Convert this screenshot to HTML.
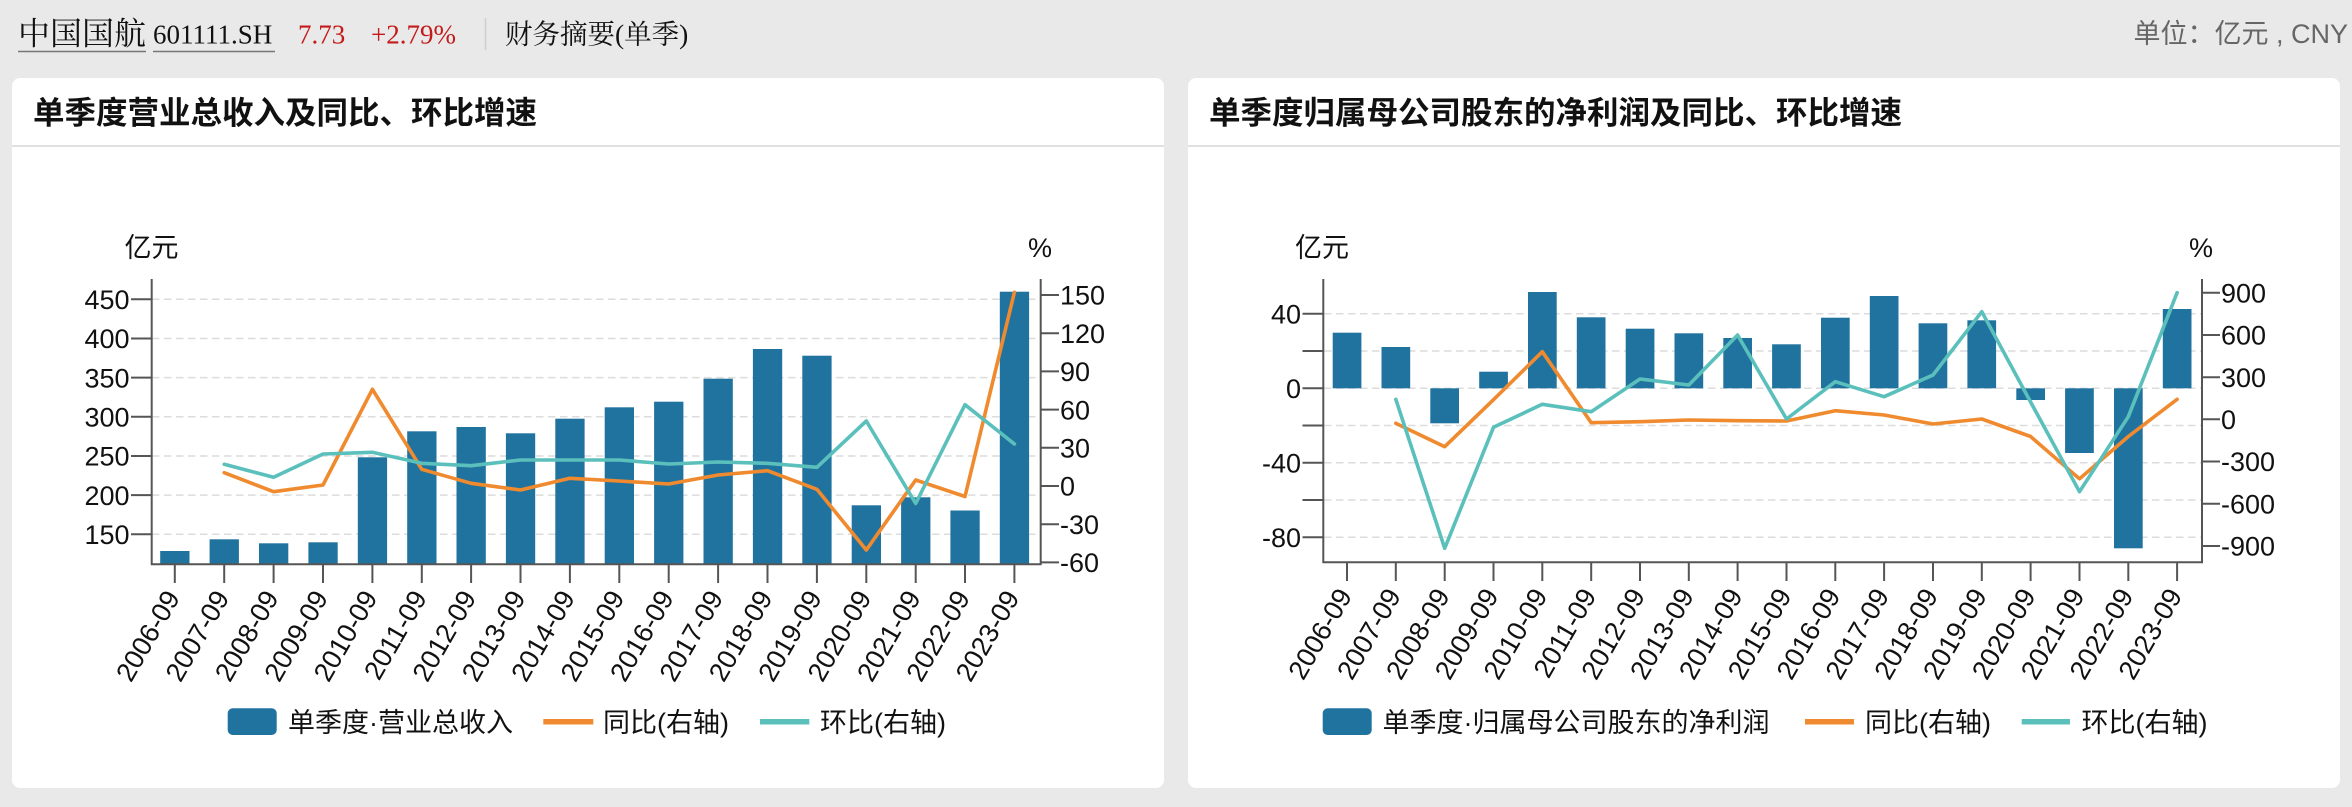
<!DOCTYPE html>
<html><head><meta charset="utf-8">
<style>
html,body{margin:0;padding:0;background:#e9e9e9;}
svg{display:block;}
.ax{font-family:"Liberation Sans","Noto Sans CJK SC",sans-serif;font-size:27px;fill:#111;}
.cjk{font-family:"Liberation Sans","Noto Sans CJK SC",sans-serif;}
.serif{font-family:"Liberation Serif","Noto Serif CJK SC",serif;}
</style></head>
<body>
<svg width="2352" height="807" viewBox="0 0 2352 807" xmlns="http://www.w3.org/2000/svg">
<rect x="0" y="0" width="2352" height="807" fill="#e9e9e9"/>

<!-- header -->
<text class="serif" x="18" y="44.5" font-size="32" fill="#111">中国国航</text>
<line x1="18" y1="51.5" x2="146" y2="51.5" stroke="#777" stroke-width="1.5"/>
<text class="serif" x="153" y="43.5" font-size="27" fill="#111">601111.SH</text>
<line x1="153" y1="51.5" x2="275" y2="51.5" stroke="#777" stroke-width="1.5"/>
<text class="serif" x="298" y="43.5" font-size="27" fill="#c41a1a">7.73</text>
<text class="serif" x="371" y="43.5" font-size="27" fill="#c41a1a">+2.79%</text>
<line x1="485.5" y1="18" x2="485.5" y2="50" stroke="#cfcfcf" stroke-width="1.5"/>
<text class="serif" x="505" y="43.5" font-size="27.5" fill="#111">财务摘要(单季)</text>
<text class="cjk" x="2348" y="43" font-size="27" fill="#666" text-anchor="end">单位：亿元 , CNY</text>

<!-- cards -->
<rect x="12" y="78" width="1152" height="710" rx="8" fill="#fff"/>
<rect x="1188" y="78" width="1152" height="710" rx="8" fill="#fff"/>
<line x1="12" y1="146" x2="1164" y2="146" stroke="#d6d6d6" stroke-width="1.5"/>
<line x1="1188" y1="146" x2="2340" y2="146" stroke="#d6d6d6" stroke-width="1.5"/>
<text class="cjk" x="33" y="123.5" font-size="31.5" font-weight="bold" fill="#111">单季度营业总收入及同比、环比增速</text>
<text class="cjk" x="1209" y="123.5" font-size="31.5" font-weight="bold" fill="#111">单季度归属母公司股东的净利润及同比、环比增速</text>

<!-- ============ LEFT CHART ============ -->
<g stroke="#dcdcdc" stroke-width="1.5" stroke-dasharray="7.5 4.5">
<line x1="152" y1="299.3" x2="1040" y2="299.3"/>
<line x1="152" y1="338.5" x2="1040" y2="338.5"/>
<line x1="152" y1="377.6" x2="1040" y2="377.6"/>
<line x1="152" y1="416.8" x2="1040" y2="416.8"/>
<line x1="152" y1="456" x2="1040" y2="456"/>
<line x1="152" y1="495.1" x2="1040" y2="495.1"/>
<line x1="152" y1="534.3" x2="1040" y2="534.3"/>
</g>
<g fill="#21739f">
<rect x="160.2" y="551" width="29.3" height="13.3"/>
<rect x="209.6" y="539.3" width="29.3" height="25"/>
<rect x="259.0" y="543.3" width="29.3" height="21"/>
<rect x="308.4" y="542.3" width="29.3" height="22"/>
<rect x="357.8" y="457.3" width="29.3" height="107"/>
<rect x="407.2" y="431.3" width="29.3" height="133"/>
<rect x="456.5" y="427" width="29.3" height="137.3"/>
<rect x="505.9" y="433.3" width="29.3" height="131"/>
<rect x="555.3" y="418.7" width="29.3" height="145.6"/>
<rect x="604.7" y="407.3" width="29.3" height="157"/>
<rect x="654.1" y="401.7" width="29.3" height="162.6"/>
<rect x="703.5" y="378.7" width="29.3" height="185.6"/>
<rect x="752.9" y="349" width="29.3" height="215.3"/>
<rect x="802.3" y="355.7" width="29.3" height="208.6"/>
<rect x="851.7" y="505.3" width="29.3" height="59"/>
<rect x="901.1" y="497.3" width="29.3" height="67"/>
<rect x="950.4" y="510.5" width="29.3" height="53.8"/>
<rect x="999.8" y="291.7" width="29.3" height="272.6"/>
</g>
<polyline fill="none" stroke="#f08a2e" stroke-width="3.6" stroke-linejoin="round" stroke-linecap="round"
points="224.2,472.7 273.6,491.7 323.0,485 372.4,389.3 421.8,469.3 471.1,483.3 520.5,490 569.9,478.3 619.3,481 668.7,484 718.1,475 767.5,470.7 816.9,489.3 866.3,550 915.7,480 965.0,496.5 1014.4,292.3"/>
<polyline fill="none" stroke="#5bc0bc" stroke-width="3.6" stroke-linejoin="round" stroke-linecap="round"
points="224.2,464.3 273.6,477.3 323.0,454 372.4,452.3 421.8,463.3 471.1,465.7 520.5,460 569.9,460 619.3,460 668.7,464 718.1,462 767.5,463.3 816.9,467.3 866.3,421 915.7,503.5 965.0,404.7 1014.4,444"/>
<!-- axes -->
<g stroke="#555" stroke-width="2" fill="none">
<line x1="151.7" y1="279" x2="151.7" y2="565"/>
<line x1="1040.7" y1="279" x2="1040.7" y2="565"/>
<line x1="151" y1="564.3" x2="1041.5" y2="564.3"/>
<line x1="131" y1="299.3" x2="151.7" y2="299.3"/>
<line x1="131" y1="338.5" x2="151.7" y2="338.5"/>
<line x1="131" y1="377.6" x2="151.7" y2="377.6"/>
<line x1="131" y1="416.8" x2="151.7" y2="416.8"/>
<line x1="131" y1="456" x2="151.7" y2="456"/>
<line x1="131" y1="495.1" x2="151.7" y2="495.1"/>
<line x1="131" y1="534.3" x2="151.7" y2="534.3"/>
<line x1="1040.7" y1="295" x2="1059" y2="295"/>
<line x1="1040.7" y1="333.2" x2="1059" y2="333.2"/>
<line x1="1040.7" y1="371.4" x2="1059" y2="371.4"/>
<line x1="1040.7" y1="409.6" x2="1059" y2="409.6"/>
<line x1="1040.7" y1="447.8" x2="1059" y2="447.8"/>
<line x1="1040.7" y1="486" x2="1059" y2="486"/>
<line x1="1040.7" y1="524.2" x2="1059" y2="524.2"/>
<line x1="1040.7" y1="562.4" x2="1059" y2="562.4"/>
<line x1="174.8" y1="564.3" x2="174.8" y2="583"/>
<line x1="224.2" y1="564.3" x2="224.2" y2="583"/>
<line x1="273.6" y1="564.3" x2="273.6" y2="583"/>
<line x1="323.0" y1="564.3" x2="323.0" y2="583"/>
<line x1="372.4" y1="564.3" x2="372.4" y2="583"/>
<line x1="421.8" y1="564.3" x2="421.8" y2="583"/>
<line x1="471.1" y1="564.3" x2="471.1" y2="583"/>
<line x1="520.5" y1="564.3" x2="520.5" y2="583"/>
<line x1="569.9" y1="564.3" x2="569.9" y2="583"/>
<line x1="619.3" y1="564.3" x2="619.3" y2="583"/>
<line x1="668.7" y1="564.3" x2="668.7" y2="583"/>
<line x1="718.1" y1="564.3" x2="718.1" y2="583"/>
<line x1="767.5" y1="564.3" x2="767.5" y2="583"/>
<line x1="816.9" y1="564.3" x2="816.9" y2="583"/>
<line x1="866.3" y1="564.3" x2="866.3" y2="583"/>
<line x1="915.7" y1="564.3" x2="915.7" y2="583"/>
<line x1="965.0" y1="564.3" x2="965.0" y2="583"/>
<line x1="1014.4" y1="564.3" x2="1014.4" y2="583"/>
</g>
<g class="ax" text-anchor="end">
<text x="129.5" y="309">450</text>
<text x="129.5" y="348.2">400</text>
<text x="129.5" y="387.3">350</text>
<text x="129.5" y="426.5">300</text>
<text x="129.5" y="465.7">250</text>
<text x="129.5" y="504.8">200</text>
<text x="129.5" y="544">150</text>
</g>
<g class="ax">
<text x="1060" y="304.7">150</text>
<text x="1060" y="342.9">120</text>
<text x="1060" y="381.1">90</text>
<text x="1060" y="419.3">60</text>
<text x="1060" y="457.5">30</text>
<text x="1060" y="495.7">0</text>
<text x="1060" y="533.9">-30</text>
<text x="1060" y="572.1">-60</text>
</g>
<text class="ax" x="151.5" y="257" text-anchor="middle">亿元</text>
<text class="ax" x="1040" y="257" text-anchor="middle">%</text>
<g class="ax" text-anchor="end" dominant-baseline="central">
<text transform="translate(172.8,593) rotate(-60)">2006-09</text>
<text transform="translate(222.2,593) rotate(-60)">2007-09</text>
<text transform="translate(271.6,593) rotate(-60)">2008-09</text>
<text transform="translate(321.0,593) rotate(-60)">2009-09</text>
<text transform="translate(370.4,593) rotate(-60)">2010-09</text>
<text transform="translate(419.8,593) rotate(-60)">2011-09</text>
<text transform="translate(469.1,593) rotate(-60)">2012-09</text>
<text transform="translate(518.5,593) rotate(-60)">2013-09</text>
<text transform="translate(567.9,593) rotate(-60)">2014-09</text>
<text transform="translate(617.3,593) rotate(-60)">2015-09</text>
<text transform="translate(666.7,593) rotate(-60)">2016-09</text>
<text transform="translate(716.1,593) rotate(-60)">2017-09</text>
<text transform="translate(765.5,593) rotate(-60)">2018-09</text>
<text transform="translate(814.9,593) rotate(-60)">2019-09</text>
<text transform="translate(864.3,593) rotate(-60)">2020-09</text>
<text transform="translate(913.7,593) rotate(-60)">2021-09</text>
<text transform="translate(963.0,593) rotate(-60)">2022-09</text>
<text transform="translate(1012.4,593) rotate(-60)">2023-09</text>
</g>
<!-- legend left -->
<rect x="227.7" y="708.3" width="49" height="26.7" rx="5" fill="#21739f"/>
<text class="ax" x="288" y="732">单季度·营业总收入</text>
<rect x="543.3" y="719" width="50" height="5.5" fill="#f08a2e"/>
<text class="ax" x="603" y="732">同比(右轴)</text>
<rect x="760" y="719" width="49.3" height="5.5" fill="#5bc0bc"/>
<text class="ax" x="820" y="732">环比(右轴)</text>

<!-- ============ RIGHT CHART ============ -->
<g stroke="#dcdcdc" stroke-width="1.5" stroke-dasharray="7.5 4.5">
<line x1="1324" y1="313.8" x2="2201" y2="313.8"/>
<line x1="1324" y1="351" x2="2201" y2="351"/>
<line x1="1324" y1="388.3" x2="2201" y2="388.3"/>
<line x1="1324" y1="425.5" x2="2201" y2="425.5"/>
<line x1="1324" y1="462.8" x2="2201" y2="462.8"/>
<line x1="1324" y1="500" x2="2201" y2="500"/>
<line x1="1324" y1="537.3" x2="2201" y2="537.3"/>
</g>
<g fill="#21739f">
<rect x="1332.7" y="332.7" width="28.7" height="55.6"/>
<rect x="1381.5" y="347" width="28.7" height="41.3"/>
<rect x="1430.3" y="388.3" width="28.7" height="35"/>
<rect x="1479.2" y="371.7" width="28.7" height="16.6"/>
<rect x="1528.0" y="292" width="28.7" height="96.3"/>
<rect x="1576.8" y="317.3" width="28.7" height="71"/>
<rect x="1625.7" y="328.7" width="28.7" height="59.6"/>
<rect x="1674.5" y="333.3" width="28.7" height="55"/>
<rect x="1723.3" y="338" width="28.7" height="50.3"/>
<rect x="1772.1" y="344.3" width="28.7" height="44"/>
<rect x="1821.0" y="317.7" width="28.7" height="70.6"/>
<rect x="1869.8" y="296" width="28.7" height="92.3"/>
<rect x="1918.6" y="323.3" width="28.7" height="65"/>
<rect x="1967.4" y="320.3" width="28.7" height="68"/>
<rect x="2016.3" y="388.3" width="28.7" height="11.7"/>
<rect x="2065.1" y="388.3" width="28.7" height="64.7"/>
<rect x="2114.0" y="388.3" width="28.7" height="160"/>
<rect x="2162.8" y="309" width="28.7" height="79.3"/>
</g>
<polyline fill="none" stroke="#f08a2e" stroke-width="3.6" stroke-linejoin="round" stroke-linecap="round"
points="1395.8,423.3 1444.7,446.7 1493.5,399.7 1542.3,351.7 1591.2,422.7 1640.0,421.7 1688.8,420 1737.6,420.7 1786.5,421 1835.3,410.7 1884.1,415 1933.0,424 1981.8,419 2030.6,436.5 2079.5,478.8 2128.3,436.5 2177.1,399.3"/>
<polyline fill="none" stroke="#5bc0bc" stroke-width="3.6" stroke-linejoin="round" stroke-linecap="round"
points="1395.8,399.3 1444.7,548.3 1493.5,427.3 1542.3,404.3 1591.2,411.7 1640.0,379 1688.8,385 1737.6,335 1786.5,419 1835.3,381.7 1884.1,396.7 1933.0,375 1981.8,311.7 2030.6,402 2079.5,491.7 2128.3,416.7 2177.1,292.7"/>
<g stroke="#555" stroke-width="2" fill="none">
<line x1="1323.3" y1="279" x2="1323.3" y2="563"/>
<line x1="2202" y1="279" x2="2202" y2="563"/>
<line x1="1322.5" y1="562.3" x2="2203" y2="562.3"/>
<line x1="1302.5" y1="313.8" x2="1323.3" y2="313.8"/>
<line x1="1302.5" y1="351" x2="1323.3" y2="351"/>
<line x1="1302.5" y1="388.3" x2="1323.3" y2="388.3"/>
<line x1="1302.5" y1="425.5" x2="1323.3" y2="425.5"/>
<line x1="1302.5" y1="462.8" x2="1323.3" y2="462.8"/>
<line x1="1302.5" y1="500" x2="1323.3" y2="500"/>
<line x1="1302.5" y1="537.3" x2="1323.3" y2="537.3"/>
<line x1="2202" y1="292.8" x2="2220" y2="292.8"/>
<line x1="2202" y1="335" x2="2220" y2="335"/>
<line x1="2202" y1="377.2" x2="2220" y2="377.2"/>
<line x1="2202" y1="419.3" x2="2220" y2="419.3"/>
<line x1="2202" y1="461.5" x2="2220" y2="461.5"/>
<line x1="2202" y1="503.8" x2="2220" y2="503.8"/>
<line x1="2202" y1="546" x2="2220" y2="546"/>
<line x1="1347.0" y1="562.3" x2="1347.0" y2="581"/>
<line x1="1395.8" y1="562.3" x2="1395.8" y2="581"/>
<line x1="1444.7" y1="562.3" x2="1444.7" y2="581"/>
<line x1="1493.5" y1="562.3" x2="1493.5" y2="581"/>
<line x1="1542.3" y1="562.3" x2="1542.3" y2="581"/>
<line x1="1591.2" y1="562.3" x2="1591.2" y2="581"/>
<line x1="1640.0" y1="562.3" x2="1640.0" y2="581"/>
<line x1="1688.8" y1="562.3" x2="1688.8" y2="581"/>
<line x1="1737.6" y1="562.3" x2="1737.6" y2="581"/>
<line x1="1786.5" y1="562.3" x2="1786.5" y2="581"/>
<line x1="1835.3" y1="562.3" x2="1835.3" y2="581"/>
<line x1="1884.1" y1="562.3" x2="1884.1" y2="581"/>
<line x1="1933.0" y1="562.3" x2="1933.0" y2="581"/>
<line x1="1981.8" y1="562.3" x2="1981.8" y2="581"/>
<line x1="2030.6" y1="562.3" x2="2030.6" y2="581"/>
<line x1="2079.5" y1="562.3" x2="2079.5" y2="581"/>
<line x1="2128.3" y1="562.3" x2="2128.3" y2="581"/>
<line x1="2177.1" y1="562.3" x2="2177.1" y2="581"/>
</g>
<g class="ax" text-anchor="end">
<text x="1301" y="323.5">40</text>
<text x="1301" y="398">0</text>
<text x="1301" y="472.5">-40</text>
<text x="1301" y="547">-80</text>
</g>
<g class="ax">
<text x="2221" y="302.5">900</text>
<text x="2221" y="344.7">600</text>
<text x="2221" y="386.9">300</text>
<text x="2221" y="429">0</text>
<text x="2221" y="471.2">-300</text>
<text x="2221" y="513.5">-600</text>
<text x="2221" y="555.7">-900</text>
</g>
<text class="ax" x="1322" y="257" text-anchor="middle">亿元</text>
<text class="ax" x="2201" y="257" text-anchor="middle">%</text>
<g class="ax" text-anchor="end" dominant-baseline="central">
<text transform="translate(1345.0,591) rotate(-60)">2006-09</text>
<text transform="translate(1393.8,591) rotate(-60)">2007-09</text>
<text transform="translate(1442.7,591) rotate(-60)">2008-09</text>
<text transform="translate(1491.5,591) rotate(-60)">2009-09</text>
<text transform="translate(1540.3,591) rotate(-60)">2010-09</text>
<text transform="translate(1589.2,591) rotate(-60)">2011-09</text>
<text transform="translate(1638.0,591) rotate(-60)">2012-09</text>
<text transform="translate(1686.8,591) rotate(-60)">2013-09</text>
<text transform="translate(1735.6,591) rotate(-60)">2014-09</text>
<text transform="translate(1784.5,591) rotate(-60)">2015-09</text>
<text transform="translate(1833.3,591) rotate(-60)">2016-09</text>
<text transform="translate(1882.1,591) rotate(-60)">2017-09</text>
<text transform="translate(1931.0,591) rotate(-60)">2018-09</text>
<text transform="translate(1979.8,591) rotate(-60)">2019-09</text>
<text transform="translate(2028.6,591) rotate(-60)">2020-09</text>
<text transform="translate(2077.5,591) rotate(-60)">2021-09</text>
<text transform="translate(2126.3,591) rotate(-60)">2022-09</text>
<text transform="translate(2175.1,591) rotate(-60)">2023-09</text>
</g>
<!-- legend right -->
<rect x="1322.7" y="708.3" width="49" height="26.7" rx="5" fill="#21739f"/>
<text class="ax" x="1382.5" y="732">单季度·归属母公司股东的净利润</text>
<rect x="1805" y="719" width="49" height="5.5" fill="#f08a2e"/>
<text class="ax" x="1865" y="732">同比(右轴)</text>
<rect x="2021.7" y="719" width="48.3" height="5.5" fill="#5bc0bc"/>
<text class="ax" x="2081.5" y="732">环比(右轴)</text>
</svg>
</body></html>
